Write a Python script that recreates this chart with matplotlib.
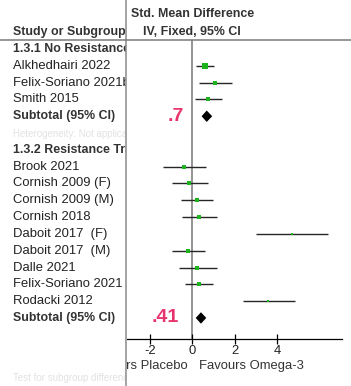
import matplotlib
matplotlib.use("Agg")
import matplotlib.pyplot as plt
from matplotlib.lines import Line2D
import numpy as np

plt.rcParams['font.family'] = ['Liberation Sans', 'DejaVu Sans']

# ---------------- data ----------------
group_a_title = "1.3.1 No Resistance Training"
studies_a = ["Alkhedhairi 2022", "Felix-Soriano 2021b", "Smith 2015"]
smd_a = [0.60, 1.07, 0.76]
lo_a = [0.16, 0.32, 0.13]
hi_a = [1.04, 1.86, 1.39]
weight_a = [60, 13, 22]
subtotal_a = [0.68, 0.44, 0.94]   # estimate, low, high
subtotal_a_label = ".7"

group_b_title = "1.3.2 Resistance Training"
studies_b = ["Brook 2021", "Cornish 2009 (F)", "Cornish 2009 (M)", "Cornish 2018",
             "Daboit 2017  (F)", "Daboit 2017  (M)", "Dalle 2021",
             "Felix-Soriano 2021", "Rodacki 2012"]
smd_b = [-0.39, -0.14, 0.22, 0.33, 4.69, -0.19, 0.22, 0.30, 3.59]
lo_b = [-1.37, -0.96, -0.55, -0.50, 3.00, -0.96, -0.63, -0.34, 2.38]
hi_b = [0.65, 0.76, 0.99, 1.15, 6.42, 0.60, 1.15, 0.99, 4.85]
weight_b = [11, 15, 17, 17, 4, 12, 9, 17, 4]
subtotal_b = [0.41, 0.16, 0.66]
subtotal_b_label = ".41"

xticks = [-2, 0, 2, 4]
header_left = "Study or Subgroup"
header_right_1 = "Std. Mean Difference"
header_right_2 = "IV, Fixed, 95% CI"
favours_left = "Favours Placebo"
favours_right = "Favours Omega-3"
subtotal_text = "Subtotal (95% CI)"
het_text = "Heterogeneity: Not applicable"
test_text = "Test for subgroup differences: Not applicable"

# ---------------- layout ----------------
W, H = 351, 386
fig = plt.figure(figsize=(W / 100, H / 100), dpi=100)
fig.patch.set_facecolor('white')

row0_px, row_step = 49.0, 16.81
def row_of(py):
    return (py - row0_px) / row_step

x0_px, px_per_unit = 192.3, 21.17
def x_of(px):
    return (px - x0_px) / px_per_unit

ax_l, ax_r, ax_t, ax_b = 127, 342, 40, 339
ax = fig.add_axes([ax_l / W, 1 - ax_b / H, (ax_r - ax_l) / W, (ax_b - ax_t) / H])
ax.set_xlim(x_of(ax_l), x_of(ax_r))
ax.set_ylim(row_of(ax_b), row_of(ax_t))
ax.patch.set_alpha(0)
for s in ['top', 'right', 'left']:
    ax.spines[s].set_visible(False)
ax.spines['bottom'].set_color('black')
ax.spines['bottom'].set_linewidth(0.9)
ax.set_yticks([])
ax.set_xticks(xticks)
ax.set_xticklabels([str(t) for t in xticks])
ax.tick_params(axis='x', direction='inout', length=7, width=0.9, colors='black',
               labelsize=9.4, labelcolor='#222222', pad=1.0)

ax.axvline(0, color='#777777', lw=1.1, zorder=1)

green = '#1db31d'
line_c = '#262626'

def draw_group(start_row, est, lo, hi, w):
    rows = start_row + np.arange(len(est))
    ax.hlines(rows, lo, hi, color=line_c, lw=1.0, zorder=2)
    for r, e, wt in zip(rows, est, w):
        side_px = 1.5 + 0.6 * np.sqrt(wt)
        ax.plot(e, r, marker='s', ms=side_px * 0.72, color=green, mec=green,
                mew=0, zorder=3, linestyle='none')
    return rows

def diamond(row, sub, half_h=0.34):
    e, lo, hi = sub
    ax.fill([lo, e, hi, e], [row, row - half_h, row, row + half_h],
            color='black', zorder=3, lw=0)

rows_a = draw_group(1, smd_a, lo_a, hi_a, weight_a)
sub_a_row = 4
diamond(sub_a_row, subtotal_a)
rows_b = draw_group(7, smd_b, lo_b, hi_b, weight_b)
sub_b_row = 16
diamond(sub_b_row, subtotal_b)

pink = '#e8336d'
ax.text(x_of(184), sub_a_row, subtotal_a_label, color=pink, fontsize=14,
        fontweight='bold', ha='right', va='center', zorder=4)
ax.text(x_of(179), sub_b_row, subtotal_b_label, color=pink, fontsize=14,
        fontweight='bold', ha='right', va='center', zorder=4)

fav_row = row_of(366)
ax.text(x_of(188), fav_row, favours_left, ha='right', va='center',
        fontsize=9.4, color='#333333', clip_on=False)
ax.text(x_of(199), fav_row, favours_right, ha='left', va='center',
        fontsize=9.4, color='#333333', clip_on=False)

ax.text(0, row_of(14), header_right_1, ha='center', va='center', fontsize=8.9,
        fontweight='bold', color='#333333', clip_on=False)
ax.text(0, row_of(32), header_right_2, ha='center', va='center', fontsize=8.9,
        fontweight='bold', color='#333333', clip_on=False)

# ---------------- left table ----------------
axl = fig.add_axes([0, 0, 126 / W, 1])
axl.set_zorder(3)
axl.set_xlim(0, 126)
axl.set_ylim(row_of(H), row_of(0))
axl.set_xticks([])
axl.set_yticks([])
for s in axl.spines.values():
    s.set_visible(False)
axl.patch.set_facecolor('white')

tx = 13
def ltext(row, s, bold=False, color='#222222', size=9.4):
    axl.text(tx, row, s, ha='left', va='center', fontsize=size,
             fontweight='bold' if bold else 'normal', color=color, clip_on=True)

ltext(row_of(32), header_left, bold=True, color='#333333', size=8.9)
ltext(0, group_a_title, bold=True, color='#333333', size=8.9)
for r, s in zip(rows_a, studies_a):
    ltext(r, s)
ltext(sub_a_row, subtotal_text, bold=True, color='#333333', size=8.9)
ltext(row_of(134), het_text, color='#e2e2e2', size=7)
ltext(6, group_b_title, bold=True, color='#333333', size=8.9)
for r, s in zip(rows_b, studies_b):
    ltext(r, s)
ltext(sub_b_row, subtotal_text, bold=True, color='#333333', size=8.9)
ltext(row_of(378), test_text, color='#e2e2e2', size=7)

# separator lines
fig.add_artist(Line2D([126.5 / W, 126.5 / W], [0, 1], transform=fig.transFigure,
                      color='#8a8a8a', lw=1.1, zorder=10))
fig.add_artist(Line2D([0, 1], [1 - 40 / H, 1 - 40 / H], transform=fig.transFigure,
                      color='#7a7a7a', lw=1.1, zorder=10))

fig.savefig('out.png', dpi=100, facecolor='white')
